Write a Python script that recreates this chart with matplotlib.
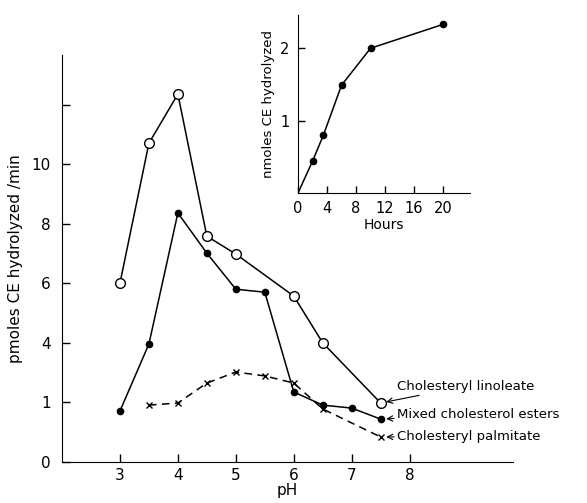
import matplotlib.pyplot as plt

# --- datos: pH vs actividad ---
ph_lino = [3, 3.5, 4, 4.5, 5, 6, 6.5, 7.5]
lino = [6.0, 10.7, 12.35, 7.58, 6.98, 5.57, 4.0, 1.98]

ph_mixed = [3, 3.5, 4, 4.5, 5, 5.5, 6, 6.5, 7, 7.5]
mixed = [1.71, 3.96, 8.36, 7.01, 5.8, 5.7, 2.35, 1.91, 1.81, 1.44]

ph_palm = [3.5, 4, 4.5, 5, 5.5, 6, 6.5, 7.5]
palm = [1.91, 1.98, 2.65, 3.02, 2.89, 2.65, 1.78, 0.84]

y_ticks = [0, 2, 4, 6, 8, 10, 12]
y_labels = ['0', '1', '4', '6', '8', '10', '']
x_ticks = [3, 4, 5, 6, 7, 8]

# --- inset: curso temporal ---
hours = [0, 2, 3.5, 6, 10, 20]
nmoles = [0, 0.44, 0.8, 1.49, 2.0, 2.33]
hour_ticks = [0, 4, 8, 12, 16, 20]

plt.rcParams['font.family'] = ['DejaVu Sans']
fig = plt.figure(figsize=(5.87, 5.03), dpi=100)

ax = fig.add_axes([0.1056, 0.0815, 0.768, 0.809])
ax.plot(ph_lino, lino, color='black', lw=1.1, marker='o', ms=7,
        mfc='white', mec='black', mew=1.0)
ax.plot(ph_mixed, mixed, color='black', lw=1.1, marker='o', ms=4.5,
        mfc='black', mec='black')
ax.plot(ph_palm, palm, color='black', lw=1.1, ls=(0, (5, 3.5)), marker='x',
        ms=5, mew=1.0)

ax.set_xlim(2.0, 9.78)
ax.set_ylim(0, 13.66)
ax.set_xticks(x_ticks)
ax.set_yticks(y_ticks)
ax.set_yticklabels(y_labels)
ax.tick_params(direction='in', length=6, width=1, labelsize=11)
ax.tick_params(axis='x', pad=4)
ax.tick_params(axis='y', pad=8)
for s in ['top', 'right']:
    ax.spines[s].set_visible(False)
ax.set_xlabel('pH', fontsize=11, labelpad=0)
ax.set_ylabel('pmoles CE hydrolyzed /min', fontsize=11, labelpad=6)

arrow = dict(arrowstyle='->', color='black', lw=0.8, shrinkA=0, shrinkB=4)
ax.annotate('Cholesteryl linoleate', xy=(ph_lino[-1], lino[-1]),
            xytext=(7.78, 2.55), fontsize=9.5, va='center', ha='left',
            arrowprops=arrow)
ax.annotate('Mixed cholesterol esters', xy=(ph_mixed[-1], mixed[-1]),
            xytext=(7.78, 1.6), fontsize=9.5, va='center', ha='left',
            arrowprops=arrow)
ax.annotate('Cholesteryl palmitate', xy=(ph_palm[-1], palm[-1]),
            xytext=(7.78, 0.86), fontsize=9.5, va='center', ha='left',
            arrowprops=arrow)

# --- inset ---
ins = fig.add_axes([0.5077, 0.6163, 0.293, 0.354])
ins.plot(hours, nmoles, color='black', lw=1.1)
ins.plot(hours[1:], nmoles[1:], ls='none', marker='o', ms=4.5,
         mfc='black', mec='black')
ins.set_xlim(0, 23.7)
ins.set_ylim(0, 2.46)
ins.set_xticks(hour_ticks)
ins.set_yticks([1, 2])
ins.tick_params(direction='in', length=5, width=1, labelsize=10.5, pad=6)
for s in ['top', 'right']:
    ins.spines[s].set_visible(False)
ins.set_xlabel('Hours', fontsize=10, labelpad=1)
ins.set_ylabel('nmoles CE hydrolyzed', fontsize=9.5, labelpad=4)

plt.savefig('out.png', dpi=100)
